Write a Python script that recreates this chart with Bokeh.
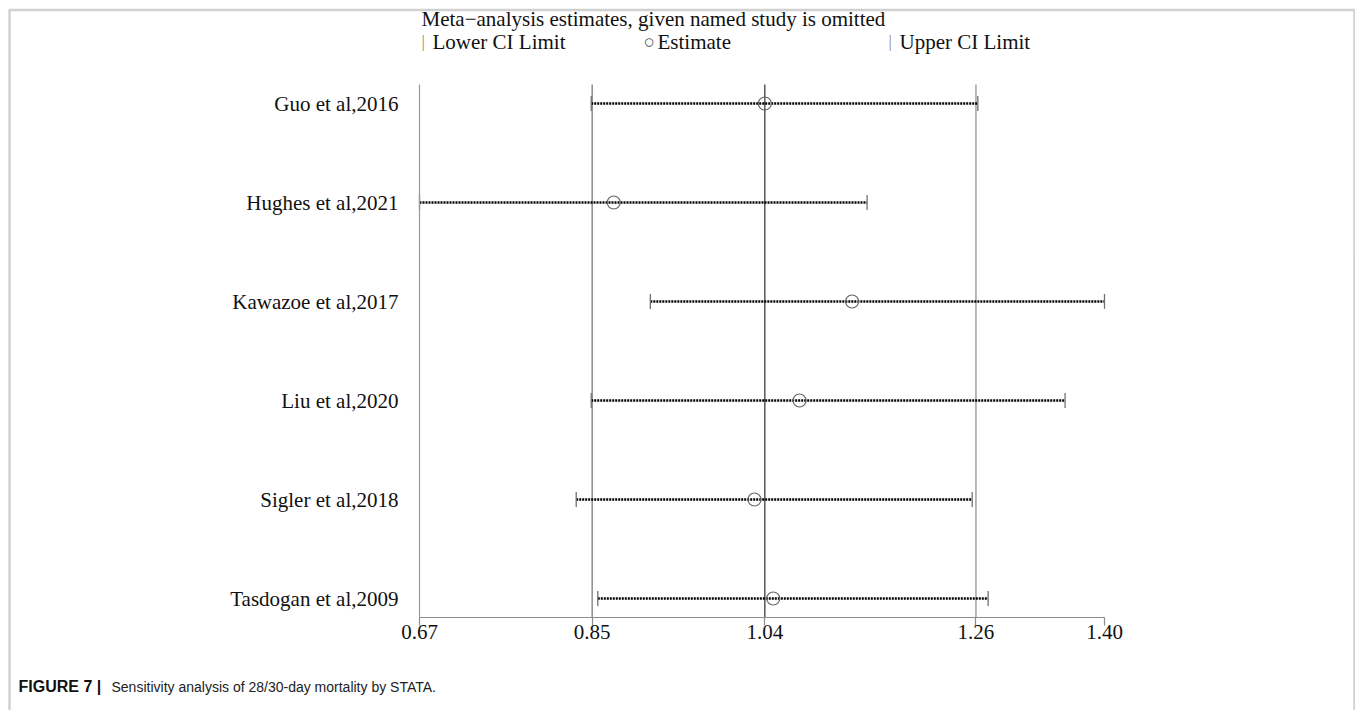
from bokeh.plotting import figure
from bokeh.models import (Range1d, LinearAxis, FixedTicker, NumeralTickFormatter,
                          Label, BoxAnnotation)
from bokeh.embed import file_html
from bokeh.resources import INLINE

# ---------------- data ----------------
studies = ["Guo et al,2016", "Hughes et al,2021", "Kawazoe et al,2017",
           "Liu et al,2020", "Sigler et al,2018", "Tasdogan et al,2009"]
lower = [0.853, 0.670, 0.916, 0.853, 0.837, 0.860]
estimate = [1.038, 0.877, 1.131, 1.075, 1.027, 1.047]
upper = [1.265, 1.147, 1.400, 1.358, 1.259, 1.276]
overall = [0.854, 1.038, 1.263]          # pooled lower CI, estimate, upper CI
x_ticks = [0.67, 0.854, 1.038, 1.263, 1.40]
title_text = "Meta\u2212analysis estimates, given named study is omitted"
legend_labels = ["Lower CI Limit", "Estimate", "Upper CI Limit"]
caption_bold = "FIGURE 7 |"
caption_text = "Sensitivity analysis of 28/30-day mortality by STATA."

rows = list(range(len(studies)))

# ---------------- layout (pixel geometry) ----------------
W, H = 1355, 710
PX_L, PX_R = 419, 1104        # x of min(lower) / max(upper)
PX_ROW0, ROW_PX = 103, 99.0   # y of first row, row spacing
PX_TOP, PX_AXIS = 84, 617     # top of plot lines, x-axis line
XMIN, XMAX = min(lower), max(upper)

def dx(px):
    return XMIN + (px - PX_L) * (XMAX - XMIN) / (PX_R - PX_L)

def dy(py):
    return (py - PX_ROW0) / ROW_PX

SERIF = "Liberation Serif"
FS = "21px"

p = figure(width=W, height=H, output_backend="svg", toolbar_location=None,
           x_range=Range1d(dx(0), dx(W)), y_range=Range1d(dy(H), dy(0)),
           x_axis_type=None, y_axis_type=None,
           min_border_left=0, min_border_right=0, min_border_top=0, min_border_bottom=0)
p.outline_line_color = None
p.background_fill_color = "white"
p.border_fill_color = "white"

# pooled reference lines
ref_colors = ["#7a7a7a", "#4a4a4a", "#a8a8a8"]
ref_widths = [1.3, 1.4, 1.6]
p.segment(x0=overall, y0=[dy(PX_TOP)] * 3, x1=overall, y1=[dy(PX_AXIS)] * 3,
          line_color=ref_colors, line_width=ref_widths)

# axes (fixed inside the frame)
xaxis = LinearAxis(ticker=FixedTicker(ticks=x_ticks),
                   formatter=NumeralTickFormatter(format="0.00"),
                   fixed_location=dy(PX_AXIS), bounds=(XMIN, XMAX))
xaxis.axis_line_color = "#8c8c8c"
xaxis.axis_line_width = 1.2
xaxis.major_tick_line_color = "#8c8c8c"
xaxis.major_tick_line_width = 1.2
xaxis.major_tick_out = 8
xaxis.major_tick_in = 0
xaxis.minor_tick_line_color = None
xaxis.major_label_standoff = -1
xaxis.major_label_text_font = SERIF
xaxis.major_label_text_font_size = FS
xaxis.major_label_text_color = "#111111"
p.add_layout(xaxis, "below")

yaxis = LinearAxis(ticker=FixedTicker(ticks=rows),
                   major_label_overrides={r: s for r, s in zip(rows, studies)},
                   fixed_location=XMIN, bounds=(dy(PX_TOP), dy(PX_AXIS)))
yaxis.axis_line_color = "#9a9a9a"
yaxis.axis_line_width = 1.2
yaxis.major_tick_line_color = None
yaxis.minor_tick_line_color = None
yaxis.major_label_standoff = 15
yaxis.major_label_text_font = SERIF
yaxis.major_label_text_font_size = FS
yaxis.major_label_text_color = "#111111"
p.add_layout(yaxis, "left")

# CI dotted lines
p.segment(x0=lower, y0=rows, x1=upper, y1=rows, line_color="black",
          line_width=2.4, line_dash="2 1")
# caps
cap = 0.075
p.segment(x0=lower, y0=[r - cap for r in rows], x1=lower, y1=[r + cap for r in rows],
          line_color="#707070", line_width=1.3)
p.segment(x0=upper, y0=[r - cap for r in rows], x1=upper, y1=[r + cap for r in rows],
          line_color="#707070", line_width=1.3)
# estimates
p.scatter(estimate, rows, marker="circle", size=13, fill_color=None,
          line_color="#666666", line_width=1.2)

# title
p.add_layout(Label(x=dx(421), y=dy(18), text=title_text, text_font=SERIF,
                   text_font_size=FS, text_baseline="middle", text_color="#111111"))
# legend row
ly = dy(41)
p.add_layout(Label(x=dx(421), y=ly, text="|", text_font=SERIF, text_font_size="17px",
                   text_baseline="middle", text_color="#8a8a8a"))
p.add_layout(Label(x=dx(432), y=ly, text=legend_labels[0], text_font=SERIF,
                   text_font_size=FS, text_baseline="middle", text_color="#111111"))
p.add_layout(Label(x=dx(643), y=ly, text="\u25CB", text_font=SERIF, text_font_size="19px",
                   text_baseline="middle", text_color="#555555"))
p.add_layout(Label(x=dx(657), y=ly, text=legend_labels[1], text_font=SERIF,
                   text_font_size=FS, text_baseline="middle", text_color="#111111"))
p.add_layout(Label(x=dx(888), y=ly, text="|", text_font=SERIF, text_font_size="17px",
                   text_baseline="middle", text_color="#8a8a8a"))
p.add_layout(Label(x=dx(899), y=ly, text=legend_labels[2], text_font=SERIF,
                   text_font_size=FS, text_baseline="middle", text_color="#111111"))

# caption
CAP_FONT = "Liberation Sans"
p.add_layout(Label(x=dx(18), y=dy(686), text=caption_bold, text_font=CAP_FONT,
                   text_font_style="bold", text_font_size="16px",
                   text_baseline="middle", text_color="#111111"))
p.add_layout(Label(x=dx(111), y=dy(686), text=caption_text, text_font=CAP_FONT,
                   text_font_size="14px", text_baseline="middle", text_color="#222222"))

# figure frame border
p.add_layout(BoxAnnotation(left=dx(9), right=dx(1354), top=dy(9.5), bottom=dy(H + 60),
                           fill_color=None, line_color="#666666", line_width=2.5))

open("out.html", "w").write(file_html(p, INLINE))
